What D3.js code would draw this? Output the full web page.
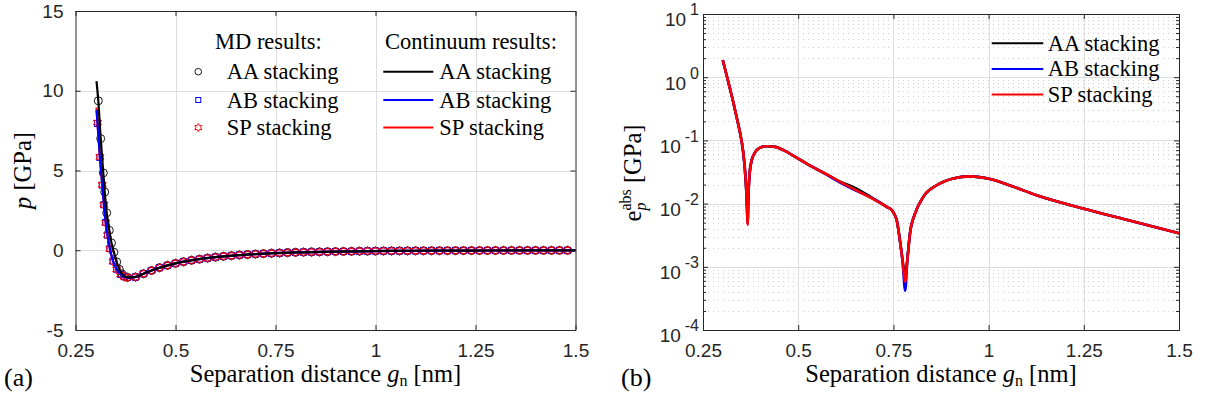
<!DOCTYPE html>
<html>
<head>
<meta charset="utf-8">
<script src="https://cdn.jsdelivr.net/npm/d3@7"></script>
<style>
  body { margin: 0; background: #fff; }
  svg { display: block; }
  .axis text { font-family: "Liberation Sans", Arial, sans-serif; font-size: 19px; fill: #262626; }
  .axis path, .axis line { stroke: #262626; }
  .tk { font-family: "Liberation Sans", Arial, sans-serif; fill: #262626; }
</style>
</head>
<body>
<svg id="chart" width="1206" height="403"></svg>
<script>
// ---- panel (a): pressure p [GPa] vs separation g_n [nm] ----
// MD results near the wall (AA and AB/SP sit at slightly different gaps)
const mdAAx = [0.307, 0.313, 0.3195, 0.323, 0.328, 0.3345, 0.340, 0.346, 0.353, 0.3595, 0.366, 0.373, 0.38];
const mdAAp = [9.37, 7.0, 4.85, 3.65, 2.35, 1.25, 0.46, -0.12, -0.73, -1.19, -1.48, -1.64, -1.70];
const mdABx = [0.305, 0.311, 0.317, 0.321, 0.3255, 0.330, 0.336, 0.344, 0.353, 0.363, 0.372, 0.38];
const mdABp = [7.95, 5.82, 4.08, 2.85, 1.75, 0.95, 0.10, -0.68, -1.19, -1.52, -1.66, -1.71];
const mdSPp = [8.0, 5.85, 4.1, 2.85, 1.72, 0.95, 0.08, -0.70, -1.20, -1.52, -1.66, -1.71];
// MD results, common tail (all three stackings coincide)
const mdTailX = [
  0.40, 0.42, 0.44, 0.46, 0.48, 0.50, 0.52, 0.54, 0.56, 0.58,
  0.60, 0.62, 0.64, 0.66, 0.68, 0.70, 0.72, 0.74, 0.76, 0.78,
  0.80, 0.82, 0.84, 0.86, 0.88, 0.90, 0.92, 0.94, 0.96, 0.98,
  1.00, 1.02, 1.04, 1.06, 1.08, 1.10, 1.12, 1.14, 1.16, 1.18,
  1.20, 1.22, 1.24, 1.26, 1.28, 1.30, 1.32, 1.34, 1.36, 1.38,
  1.40, 1.42, 1.44, 1.46, 1.48];
const mdTailP = [
  -1.68, -1.47, -1.27, -1.09, -0.95, -0.82, -0.72, -0.63, -0.56, -0.49,
  -0.43, -0.38, -0.34, -0.30, -0.27, -0.24, -0.21, -0.19, -0.17, -0.15,
  -0.135, -0.12, -0.11, -0.10, -0.09, -0.08, -0.075, -0.07, -0.06, -0.055,
  -0.05, -0.045, -0.04, -0.038, -0.035, -0.032, -0.03, -0.027, -0.025, -0.023,
  -0.021, -0.02, -0.018, -0.017, -0.016, -0.015, -0.014, -0.013, -0.012, -0.011,
  -0.011, -0.01, -0.009, -0.009, -0.008];

// continuum results
const ctAAx = [0.3025, 0.307, 0.313, 0.3195, 0.323, 0.328, 0.3345, 0.340, 0.346, 0.353,
  0.3595, 0.366, 0.373, 0.38, 0.39, 0.40, 0.42, 0.45, 0.50, 0.55,
  0.60, 0.65, 0.70, 0.80, 0.90, 1.00, 1.10, 1.20, 1.30, 1.40, 1.50];
const ctAAp = [10.6, 9.37, 7.0, 4.85, 3.65, 2.35, 1.25, 0.46, -0.12, -0.73,
  -1.19, -1.48, -1.64, -1.70, -1.70, -1.67, -1.47, -1.18, -0.82, -0.59,
  -0.43, -0.32, -0.24, -0.135, -0.08, -0.05, -0.032, -0.021, -0.015, -0.011, -0.008];
const ctABx = [0.3025, 0.305, 0.311, 0.317, 0.321, 0.3255, 0.330, 0.336, 0.344, 0.353,
  0.363, 0.372, 0.38, 0.39, 0.40, 0.42, 0.45, 0.50, 0.55, 0.60,
  0.65, 0.70, 0.80, 0.90, 1.00, 1.10, 1.20, 1.30, 1.40, 1.50];
const ctABp = [8.8, 7.95, 5.82, 4.08, 2.85, 1.75, 0.95, 0.10, -0.68, -1.19,
  -1.52, -1.66, -1.71, -1.71, -1.68, -1.47, -1.18, -0.82, -0.59, -0.43,
  -0.32, -0.24, -0.135, -0.08, -0.05, -0.032, -0.021, -0.015, -0.011, -0.008];
const ctSPp = [8.95, 8.0, 5.85, 4.1, 2.85, 1.72, 0.95, 0.08, -0.70, -1.20,
  -1.52, -1.66, -1.71, -1.71, -1.68, -1.47, -1.18, -0.82, -0.59, -0.43,
  -0.32, -0.24, -0.135, -0.08, -0.05, -0.032, -0.021, -0.015, -0.011, -0.008];

// ---- panel (b): absolute error e_p^abs [GPa] ----
const errX = [0.302, 0.31, 0.32, 0.33, 0.34, 0.347, 0.352, 0.356, 0.36, 0.363,
  0.3655, 0.367, 0.369, 0.372, 0.378, 0.385, 0.391, 0.40, 0.417, 0.44,
  0.461, 0.49, 0.522, 0.557, 0.58, 0.61, 0.645, 0.69, 0.7325, 0.7455,
  0.7585, 0.767, 0.774, 0.781, 0.7865, 0.7936, 0.807, 0.8285, 0.8637, 0.907,
  0.951, 1.004, 1.06, 1.126, 1.248, 1.375, 1.5];
const errAA = [1.86, 1.2, 0.69, 0.39, 0.21, 0.135, 0.092, 0.062, 0.035, 0.019,
  0.0092, 0.0048, 0.012, 0.028, 0.049, 0.062, 0.070, 0.077, 0.081, 0.079,
  0.070, 0.056, 0.043, 0.033, 0.028, 0.0222, 0.0182, 0.0128, 0.0089, 0.0079,
  0.0055, 0.0027, 0.0013, 0.0007, 0.0013, 0.0034, 0.007, 0.0128, 0.0195, 0.025,
  0.027, 0.0245, 0.019, 0.0136, 0.0084, 0.0053, 0.0034];
const errAB = [1.86, 1.2, 0.69, 0.39, 0.21, 0.135, 0.092, 0.062, 0.035, 0.019,
  0.0094, 0.005, 0.012, 0.028, 0.049, 0.062, 0.070, 0.077, 0.081, 0.079,
  0.070, 0.056, 0.043, 0.033, 0.0275, 0.0215, 0.0168, 0.0126, 0.0089, 0.0079,
  0.0056, 0.0026, 0.00122, 0.00042, 0.00124, 0.0034, 0.007, 0.0128, 0.0195, 0.025,
  0.027, 0.0245, 0.019, 0.0136, 0.0084, 0.0053, 0.0034];
const errSP = [1.86, 1.2, 0.69, 0.39, 0.21, 0.135, 0.092, 0.062, 0.035, 0.019,
  0.009, 0.0046, 0.012, 0.028, 0.049, 0.062, 0.070, 0.077, 0.081, 0.079,
  0.070, 0.056, 0.043, 0.033, 0.028, 0.022, 0.0172, 0.0124, 0.0089, 0.0079,
  0.0055, 0.0026, 0.00126, 0.00058, 0.00126, 0.0034, 0.007, 0.0128, 0.0195, 0.025,
  0.027, 0.0245, 0.019, 0.0136, 0.0084, 0.0053, 0.0034];

// ticks and labels
const xTicks = [0.25, 0.5, 0.75, 1, 1.25, 1.5];
const pTicks = [-5, 0, 5, 10, 15];
const eTicks = [1e-4, 1e-3, 1e-2, 1e-1, 1, 10];
const eExp = ['-4', '-3', '-2', '-1', '0', '1'];
const stackNames = ['AA stacking', 'AB stacking', 'SP stacking'];
const stackColors = ['#000000', '#0000ff', '#ff0000'];

const SERIF = '"Liberation Serif", "DejaVu Serif", serif';

const svg = d3.select('#chart');
svg.append('rect').attr('width', 1206).attr('height', 403).attr('fill', '#fff');

const xA = d3.scaleLinear().domain([0.25, 1.5]).range([75.5, 575.5]);
const yA = d3.scaleLinear().domain([-5, 15]).range([330, 11]);
const xB = d3.scaleLinear().domain([0.25, 1.5]).range([703, 1179]);
const yB = d3.scaleLog().domain([1e-4, 10]).range([330, 14]);

function zip(xs, ys) {
  return xs.map(function(x, i) { return [x, ys[i]]; });
}

function serifText(g, size) {
  return g.append('text').attr('font-family', SERIF).attr('font-size', size).attr('fill', '#000');
}

function hexagram(R) {
  const r = R / Math.sqrt(3);
  const pts = [];
  for (let k = 0; k < 12; k++) {
    const a = (-90 + 30 * k) * Math.PI / 180;
    const rad = k % 2 === 0 ? R : r;
    pts.push([rad * Math.cos(a), rad * Math.sin(a)]);
  }
  return 'M' + pts.map(p => p[0].toFixed(2) + ',' + p[1].toFixed(2)).join('L') + 'Z';
}

function drawGrid(g, x, y, xs, ys, dotted) {
  const [yb, yt] = y.range();
  const [xl, xr] = x.range();
  const col = dotted ? '#cfcfcf' : '#dedede';
  const dash = dotted ? '1,4' : null;
  g.append('g').selectAll('line').data(xs).join('line')
    .attr('x1', d => Math.round(x(d)) + 0.5).attr('x2', d => Math.round(x(d)) + 0.5)
    .attr('y1', yb).attr('y2', yt)
    .attr('stroke', col).attr('stroke-dasharray', dash);
  g.append('g').selectAll('line').data(ys).join('line')
    .attr('x1', xl).attr('x2', xr)
    .attr('y1', d => Math.round(y(d)) + 0.5).attr('y2', d => Math.round(y(d)) + 0.5)
    .attr('stroke', col).attr('stroke-dasharray', dash);
}

function drawBox(g, x, y, yTickVals, yFormat, minor) {
  const [yb, yt] = y.range();
  const [xl, xr] = x.range();
  g.append('g').attr('class', 'axis').attr('transform', 'translate(0,' + yb + ')')
    .call(d3.axisBottom(x).tickValues(xTicks).tickFormat(d => String(d))
      .tickSizeInner(-5).tickSizeOuter(0).tickPadding(14));
  g.append('g').attr('class', 'axis').attr('transform', 'translate(0,' + yt + ')')
    .call(d3.axisTop(x).tickValues(xTicks).tickFormat('').tickSizeInner(-5).tickSizeOuter(0));
  g.append('g').attr('class', 'axis').attr('transform', 'translate(' + xl + ',0)')
    .call(d3.axisLeft(y).tickValues(yTickVals).tickFormat(yFormat)
      .tickSizeInner(-5).tickSizeOuter(0).tickPadding(12));
  g.append('g').attr('class', 'axis').attr('transform', 'translate(' + xr + ',0)')
    .call(d3.axisRight(y).tickValues(yTickVals).tickFormat('').tickSizeInner(-5).tickSizeOuter(0));
  if (minor) {
    g.append('g').attr('class', 'axis').attr('transform', 'translate(' + xl + ',0)')
      .call(d3.axisLeft(y).tickValues(minor).tickFormat('').tickSizeInner(-3).tickSizeOuter(0));
    g.append('g').attr('class', 'axis').attr('transform', 'translate(' + xr + ',0)')
      .call(d3.axisRight(y).tickValues(minor).tickFormat('').tickSizeInner(-3).tickSizeOuter(0));
  }
}

function xLabel(g, cx) {
  const t = serifText(g, 24.5).attr('x', cx).attr('y', 382).attr('text-anchor', 'middle');
  t.append('tspan').text('Separation distance ');
  t.append('tspan').attr('font-style', 'italic').text('g');
  t.append('tspan').attr('font-size', 16).attr('dy', 4).text('n');
  t.append('tspan').attr('dy', -4).text(' [nm]');
}

// ===== panel (a) =====
const gA = svg.append('g');
drawGrid(gA, xA, yA, [0.5, 0.75, 1, 1.25], [0, 5, 10], false);

const mdAA = zip(mdAAx.concat(mdTailX), mdAAp.concat(mdTailP));
const mdAB = zip(mdABx.concat(mdTailX), mdABp.concat(mdTailP));
const mdSP = zip(mdABx.concat(mdTailX), mdSPp.concat(mdTailP));

gA.append('g').selectAll('circle').data(mdAA).join('circle')
  .attr('cx', d => xA(d[0])).attr('cy', d => yA(d[1])).attr('r', 4)
  .attr('fill', 'none').attr('stroke', '#000').attr('stroke-width', 0.9);
gA.append('g').selectAll('rect').data(mdAB).join('rect')
  .attr('x', d => xA(d[0]) - 3).attr('y', d => yA(d[1]) - 3)
  .attr('width', 6).attr('height', 6)
  .attr('fill', 'none').attr('stroke', '#0000ff').attr('stroke-width', 1);
gA.append('g').selectAll('path').data(mdSP).join('path')
  .attr('transform', d => 'translate(' + xA(d[0]) + ',' + yA(d[1]) + ')')
  .attr('d', hexagram(4.6))
  .attr('fill', 'none').attr('stroke', '#ff0000').attr('stroke-width', 1);

const lineA = d3.line().x(d => xA(d[0])).y(d => yA(d[1])).curve(d3.curveMonotoneX);
[[ctABx, ctSPp, '#ff0000'], [ctABx, ctABp, '#0000ff'], [ctAAx, ctAAp, '#000000']].forEach(function(s) {
  gA.append('path').datum(zip(s[0], s[1])).attr('d', lineA)
    .attr('fill', 'none').attr('stroke', s[2]).attr('stroke-width', 2.2);
});

drawBox(gA, xA, yA, pTicks, d => String(d), null);

// legend (a)
serifText(gA, 22.5).attr('x', 215).attr('y', 49.3).text('MD results:');
serifText(gA, 22.5).attr('x', 385).attr('y', 49.3).text('Continuum results:');
const legY = [71.7, 100, 127.6];
gA.append('circle').attr('cx', 198.3).attr('cy', legY[0]).attr('r', 3.3)
  .attr('fill', 'none').attr('stroke', '#000').attr('stroke-width', 0.9);
gA.append('rect').attr('x', 195.8).attr('y', legY[1] - 2.5).attr('width', 5).attr('height', 5)
  .attr('fill', 'none').attr('stroke', '#0000ff');
gA.append('path').attr('transform', 'translate(198.3,' + legY[2] + ')').attr('d', hexagram(4))
  .attr('fill', 'none').attr('stroke', '#ff0000');
stackNames.forEach(function(name, i) {
  serifText(gA, 22.5).attr('x', 226.7).attr('y', legY[i] + 7.6).text(name);
  gA.append('line').attr('x1', 383.3).attr('x2', 433.3).attr('y1', legY[i]).attr('y2', legY[i])
    .attr('stroke', stackColors[i]).attr('stroke-width', 2);
  serifText(gA, 22.5).attr('x', 439.3).attr('y', legY[i] + 7.6).text(name);
});

// labels (a)
const ylA = serifText(gA, 24.5)
  .attr('transform', 'translate(31,170.5) rotate(-90)').attr('text-anchor', 'middle');
ylA.append('tspan').attr('font-style', 'italic').text('p');
ylA.append('tspan').text(' [GPa]');
xLabel(gA, 325.5);
serifText(gA, 26).attr('x', 4).attr('y', 386).text('(a)');

// ===== panel (b) =====
const gB = svg.append('g');
const minorVals = [];
[1e-4, 1e-3, 1e-2, 1e-1, 1].forEach(function(dec) {
  [2, 3, 4, 5, 6, 7, 8, 9].forEach(function(k) { minorVals.push(k * dec); });
});
drawGrid(gB, xB, yB, [], minorVals, true);
drawGrid(gB, xB, yB, [0.5, 0.75, 1, 1.25], [1e-3, 1e-2, 1e-1, 1], false);

const lineB = d3.line().x(d => xB(d[0])).y(d => yB(d[1])).curve(d3.curveMonotoneX);
[[errAA, '#000000'], [errAB, '#0000ff'], [errSP, '#ff0000']].forEach(function(s) {
  gB.append('path').datum(zip(errX, s[0])).attr('d', lineB)
    .attr('fill', 'none').attr('stroke', s[1]).attr('stroke-width', 2.6);
});

drawBox(gB, xB, yB, eTicks, () => '', minorVals);

// log tick labels 10^k
eTicks.forEach(function(v, i) {
  const t = gB.append('text').attr('class', 'tk').attr('x', 699).attr('y', yB(v) + 12.3)
    .attr('text-anchor', 'end').attr('font-size', 19);
  t.append('tspan').text('10');
  t.append('tspan').attr('font-size', 16).attr('dx', 4).attr('dy', -11).text(eExp[i]);
});

// legend (b)
const legYB = [43.3, 69, 94.5];
stackNames.forEach(function(name, i) {
  gB.append('line').attr('x1', 991.7).attr('x2', 1043.3).attr('y1', legYB[i]).attr('y2', legYB[i])
    .attr('stroke', stackColors[i]).attr('stroke-width', 2);
  serifText(gB, 22.5).attr('x', 1047.7).attr('y', legYB[i] + 7.2).text(name);
});

// labels (b)
const ylB = serifText(gB, 24.5)
  .attr('transform', 'translate(641,173) rotate(-90)').attr('text-anchor', 'middle');
ylB.append('tspan').text('e');
ylB.append('tspan').attr('font-style', 'italic').attr('font-size', 16).attr('dy', 5).text('p');
ylB.append('tspan').attr('font-size', 16).attr('dx', -8).attr('dy', -15).text('abs');
ylB.append('tspan').attr('dy', 10).text(' [GPa]');
xLabel(gB, 941);
serifText(gB, 26).attr('x', 621).attr('y', 386).text('(b)');
</script>
</body>
</html>
